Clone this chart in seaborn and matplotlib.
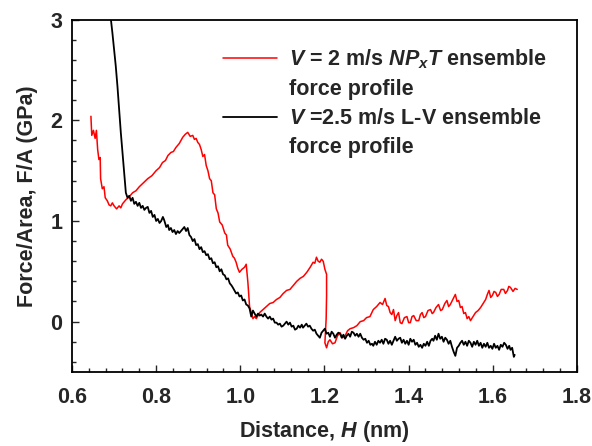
import matplotlib
matplotlib.use("Agg")
import matplotlib.pyplot as plt
from matplotlib.lines import Line2D
from matplotlib.ticker import MultipleLocator
import seaborn as sns
import pandas as pd

sns.set_theme(style="ticks")
plt.rcParams["font.family"] = ["Liberation Sans", "DejaVu Sans"]
plt.rcParams["font.weight"] = "bold"
plt.rcParams["mathtext.fontset"] = "custom"
plt.rcParams["mathtext.rm"] = "Liberation Sans:bold"
plt.rcParams["mathtext.bf"] = "Liberation Sans:bold"
plt.rcParams["mathtext.it"] = "Liberation Sans:italic:bold"

# (distance H in nm, force/area in GPa)
npxt_profile = [
    (0.645, 2.04), (0.647, 1.85), (0.651, 1.90), (0.655, 1.82), (0.658, 1.90),
    (0.661, 1.71), (0.664, 1.61), (0.667, 1.63), (0.668, 1.42), (0.672, 1.32),
    (0.676, 1.34), (0.679, 1.23), (0.684, 1.20), (0.688, 1.16), (0.692, 1.15),
    (0.696, 1.18), (0.700, 1.15), (0.706, 1.12), (0.712, 1.15), (0.716, 1.13),
    (0.720, 1.17), (0.728, 1.21), (0.736, 1.24), (0.744, 1.28), (0.752, 1.30),
    (0.760, 1.34), (0.770, 1.38), (0.780, 1.42), (0.790, 1.45), (0.800, 1.50),
    (0.808, 1.53), (0.815, 1.58), (0.822, 1.60), (0.828, 1.65), (0.835, 1.68),
    (0.841, 1.69), (0.847, 1.73), (0.855, 1.77), (0.863, 1.83), (0.869, 1.86),
    (0.875, 1.88), (0.881, 1.84), (0.887, 1.85), (0.891, 1.81), (0.895, 1.82),
    (0.899, 1.78), (0.903, 1.76), (0.907, 1.71), (0.911, 1.64), (0.915, 1.66),
    (0.919, 1.55), (0.923, 1.50), (0.927, 1.42), (0.931, 1.40), (0.935, 1.28),
    (0.939, 1.26), (0.943, 1.12), (0.947, 1.08), (0.951, 0.99), (0.957, 0.96),
    (0.963, 0.88), (0.967, 0.86), (0.970, 0.76), (0.976, 0.72), (0.982, 0.65),
    (0.986, 0.63), (0.990, 0.59), (0.994, 0.53), (0.998, 0.49), (1.004, 0.52),
    (1.010, 0.54), (1.014, 0.57), (1.018, 0.39), (1.022, 0.15), (1.026, 0.09),
    (1.030, 0.03), (1.034, 0.05), (1.038, 0.03), (1.046, 0.09), (1.054, 0.12),
    (1.062, 0.15), (1.070, 0.18), (1.078, 0.19), (1.086, 0.22), (1.094, 0.24),
    (1.102, 0.28), (1.110, 0.31), (1.118, 0.32), (1.126, 0.36), (1.134, 0.40),
    (1.142, 0.43), (1.150, 0.45), (1.158, 0.49), (1.166, 0.54), (1.173, 0.59),
    (1.177, 0.58), (1.181, 0.64), (1.185, 0.60), (1.189, 0.59), (1.193, 0.62),
    (1.197, 0.60), (1.201, 0.52), (1.205, 0.47), (1.205, 0.26), (1.204, 0.03),
    (1.202, -0.12), (1.201, -0.21), (1.205, -0.26), (1.209, -0.20), (1.213, -0.18),
    (1.219, -0.22), (1.225, -0.21), (1.231, -0.14), (1.237, -0.11), (1.243, -0.16),
    (1.249, -0.14), (1.255, -0.09), (1.261, -0.07), (1.269, -0.06), (1.277, -0.04),
    (1.285, 0.00), (1.293, 0.01), (1.300, 0.04), (1.308, 0.05), (1.316, 0.12),
    (1.324, 0.15), (1.332, 0.19), (1.338, 0.17), (1.344, 0.23), (1.348, 0.16),
    (1.352, 0.15), (1.356, 0.09), (1.360, 0.07), (1.364, 0.12), (1.368, 0.01),
    (1.372, 0.06), (1.376, 0.09), (1.380, -0.01), (1.384, -0.02), (1.390, 0.04),
    (1.396, 0.05), (1.400, -0.01), (1.404, -0.01), (1.408, 0.05), (1.412, 0.06),
    (1.418, 0.01), (1.424, 0.01), (1.428, 0.07), (1.432, 0.09), (1.436, 0.04),
    (1.440, 0.05), (1.446, 0.11), (1.452, 0.12), (1.456, 0.08), (1.459, 0.09),
    (1.465, 0.14), (1.471, 0.17), (1.476, 0.11), (1.480, 0.12), (1.486, 0.18),
    (1.491, 0.21), (1.495, 0.15), (1.499, 0.17), (1.505, 0.22), (1.511, 0.27),
    (1.515, 0.20), (1.519, 0.21), (1.523, 0.14), (1.527, 0.15), (1.531, 0.08),
    (1.535, 0.09), (1.539, 0.03), (1.543, 0.05), (1.547, 0.01), (1.553, 0.05),
    (1.559, 0.09), (1.565, 0.11), (1.571, 0.14), (1.577, 0.18), (1.583, 0.22),
    (1.587, 0.27), (1.591, 0.31), (1.595, 0.24), (1.599, 0.26), (1.603, 0.30),
    (1.607, 0.29), (1.611, 0.25), (1.615, 0.27), (1.620, 0.32), (1.626, 0.32),
    (1.630, 0.28), (1.635, 0.31), (1.638, 0.35), (1.642, 0.34), (1.648, 0.30),
    (1.653, 0.33), (1.658, 0.32),
]

lv_profile = [
    (0.692, 3.02), (0.696, 2.87), (0.700, 2.70), (0.704, 2.54), (0.708, 2.34),
    (0.712, 2.11), (0.716, 1.88), (0.720, 1.68), (0.724, 1.49), (0.728, 1.28),
    (0.732, 1.23), (0.736, 1.25), (0.740, 1.20), (0.744, 1.23), (0.748, 1.17),
    (0.752, 1.19), (0.756, 1.15), (0.760, 1.18), (0.764, 1.13), (0.768, 1.15),
    (0.772, 1.11), (0.776, 1.13), (0.780, 1.14), (0.784, 1.08), (0.788, 1.10),
    (0.792, 1.04), (0.796, 1.06), (0.800, 1.00), (0.804, 1.02), (0.808, 0.98),
    (0.812, 1.00), (0.816, 1.04), (0.819, 1.01), (0.822, 0.97), (0.824, 0.94),
    (0.828, 0.96), (0.831, 0.91), (0.835, 0.93), (0.839, 0.89), (0.843, 0.91),
    (0.847, 0.87), (0.851, 0.90), (0.855, 0.88), (0.859, 0.90), (0.863, 0.92),
    (0.867, 0.94), (0.871, 0.90), (0.875, 0.93), (0.879, 0.86), (0.883, 0.84),
    (0.887, 0.80), (0.891, 0.82), (0.895, 0.76), (0.899, 0.77), (0.903, 0.72),
    (0.907, 0.74), (0.911, 0.69), (0.915, 0.70), (0.919, 0.66), (0.923, 0.67),
    (0.927, 0.62), (0.931, 0.63), (0.935, 0.58), (0.939, 0.59), (0.943, 0.54),
    (0.947, 0.55), (0.951, 0.50), (0.955, 0.52), (0.959, 0.47), (0.963, 0.46),
    (0.967, 0.42), (0.971, 0.43), (0.975, 0.38), (0.979, 0.36), (0.982, 0.34),
    (0.986, 0.31), (0.990, 0.28), (0.994, 0.29), (0.998, 0.25), (1.002, 0.26),
    (1.006, 0.21), (1.010, 0.22), (1.014, 0.17), (1.018, 0.16), (1.022, 0.13),
    (1.026, 0.05), (1.030, 0.11), (1.034, 0.08), (1.038, 0.05), (1.042, 0.08),
    (1.046, 0.06), (1.050, 0.07), (1.054, 0.05), (1.058, 0.08), (1.062, 0.05),
    (1.066, 0.03), (1.070, 0.05), (1.074, 0.02), (1.078, 0.03), (1.082, -0.01),
    (1.086, -0.01), (1.090, -0.03), (1.094, -0.02), (1.098, -0.05), (1.102, -0.04),
    (1.106, -0.02), (1.110, 0.00), (1.114, -0.03), (1.118, -0.01), (1.122, -0.05),
    (1.126, -0.04), (1.130, -0.08), (1.134, -0.07), (1.138, -0.04), (1.142, -0.06),
    (1.146, -0.03), (1.149, -0.06), (1.153, -0.04), (1.157, -0.02), (1.161, -0.05),
    (1.165, -0.04), (1.169, -0.07), (1.173, -0.09), (1.177, -0.08), (1.181, -0.12),
    (1.185, -0.14), (1.189, -0.16), (1.193, -0.11), (1.197, -0.09), (1.201, -0.07),
    (1.205, -0.12), (1.209, -0.11), (1.213, -0.15), (1.217, -0.10), (1.221, -0.12),
    (1.225, -0.16), (1.229, -0.13), (1.233, -0.11), (1.237, -0.12), (1.241, -0.16),
    (1.245, -0.13), (1.249, -0.17), (1.253, -0.14), (1.257, -0.12), (1.261, -0.15),
    (1.265, -0.10), (1.269, -0.11), (1.273, -0.14), (1.277, -0.12), (1.281, -0.15),
    (1.285, -0.12), (1.289, -0.16), (1.293, -0.18), (1.297, -0.17), (1.301, -0.21),
    (1.305, -0.19), (1.309, -0.23), (1.313, -0.22), (1.316, -0.24), (1.320, -0.20),
    (1.324, -0.23), (1.328, -0.19), (1.332, -0.21), (1.336, -0.18), (1.340, -0.22),
    (1.344, -0.17), (1.348, -0.18), (1.352, -0.22), (1.356, -0.19), (1.360, -0.23),
    (1.364, -0.19), (1.368, -0.15), (1.372, -0.19), (1.376, -0.17), (1.380, -0.16),
    (1.384, -0.21), (1.388, -0.18), (1.392, -0.22), (1.396, -0.19), (1.400, -0.23),
    (1.404, -0.17), (1.408, -0.20), (1.412, -0.18), (1.416, -0.23), (1.420, -0.21),
    (1.424, -0.25), (1.428, -0.23), (1.432, -0.26), (1.436, -0.22), (1.440, -0.24),
    (1.444, -0.20), (1.448, -0.24), (1.452, -0.19), (1.456, -0.17), (1.459, -0.19),
    (1.463, -0.14), (1.467, -0.18), (1.471, -0.12), (1.475, -0.17), (1.479, -0.15),
    (1.483, -0.20), (1.487, -0.16), (1.491, -0.18), (1.495, -0.22), (1.499, -0.19),
    (1.503, -0.25), (1.507, -0.30), (1.511, -0.34), (1.515, -0.26), (1.519, -0.24),
    (1.523, -0.21), (1.527, -0.19), (1.531, -0.23), (1.535, -0.20), (1.539, -0.24),
    (1.543, -0.19), (1.547, -0.21), (1.551, -0.25), (1.555, -0.20), (1.559, -0.23),
    (1.563, -0.19), (1.567, -0.24), (1.571, -0.21), (1.575, -0.26), (1.579, -0.22),
    (1.583, -0.25), (1.587, -0.21), (1.591, -0.26), (1.595, -0.24), (1.599, -0.27),
    (1.603, -0.22), (1.607, -0.26), (1.611, -0.24), (1.615, -0.28), (1.619, -0.23),
    (1.623, -0.25), (1.627, -0.21), (1.631, -0.23), (1.635, -0.27), (1.639, -0.24),
    (1.642, -0.28), (1.646, -0.26), (1.650, -0.35), (1.652, -0.33),
]

npxt_label = r"$V$ = 2 m/s $NP_xT$ ensemble"
lv_label = r"$V$ =2.5 m/s L-V ensemble"
x_ticks = [0.6, 0.8, 1.0, 1.2, 1.4, 1.6, 1.8]
y_ticks = [0, 1, 2, 3]

npxt_df = pd.DataFrame(npxt_profile, columns=["H", "FA"])
lv_df = pd.DataFrame(lv_profile, columns=["H", "FA"])

fig = plt.figure(figsize=(5.92, 4.46), dpi=100)
ax = fig.add_axes([0.1216, 0.166, 0.8530, 0.790])

sns.lineplot(data=npxt_df, x="H", y="FA", sort=False, estimator=None,
             color="#ff0000", linewidth=1.1, ax=ax)
sns.lineplot(data=lv_df, x="H", y="FA", sort=False, estimator=None,
             color="black", linewidth=1.3, ax=ax)

ax.set_xlim(0.6, 1.8)
ax.set_ylim(-0.5, 3)
ax.set_xticks(x_ticks)
ax.set_xticklabels([f"{t:.1f}" for t in x_ticks])
ax.set_yticks(y_ticks)
ax.xaxis.set_minor_locator(MultipleLocator(0.04))
ax.yaxis.set_minor_locator(MultipleLocator(0.2))
ax.tick_params(which="both", direction="in", top=False, right=False,
               labelsize=15.5, width=1.0)
ax.tick_params(axis="x", which="major", length=5, pad=11)
ax.tick_params(axis="y", which="major", length=5, pad=7)
ax.tick_params(which="minor", length=3)
for sp in ax.spines.values():
    sp.set_linewidth(1.3)
    sp.set_color("black")

ax.set_xlabel(r"Distance, $H$ (nm)", fontsize=15.5, fontweight="bold", labelpad=8)
ax.set_ylabel("Force/Area, F/A (GPa)", fontsize=15.5, fontweight="bold", labelpad=9)

lines = ax.get_lines()
blank = Line2D([], [], color="none")
ax.legend([lines[0], blank, lines[1], blank],
          [npxt_label, "force profile", lv_label, "force profile"],
          loc="upper left", bbox_to_anchor=(0.299, 0.922), frameon=False,
          fontsize=15.5, handlelength=2.5, handletextpad=0.55,
          labelspacing=0.38, borderaxespad=0, borderpad=0)

fig.savefig("out.png", dpi=100)
